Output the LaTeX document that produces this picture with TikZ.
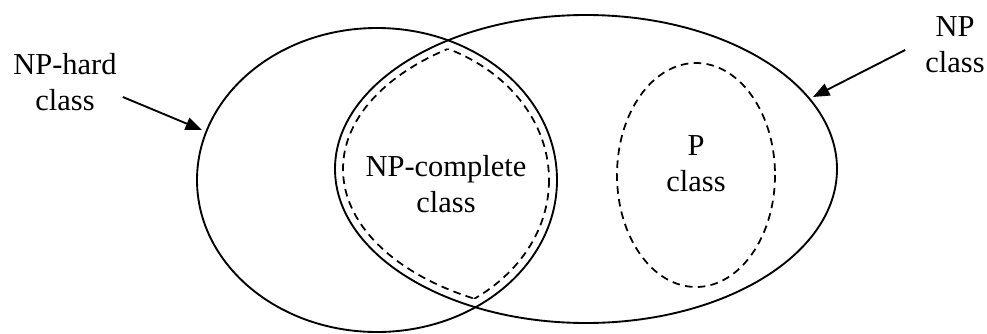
\documentclass[tikz,border=0pt]{standalone}
\usepackage{fontspec}
\setmainfont{Liberation Serif}
\usetikzlibrary{arrows.meta}
\tikzset{
	setline/.style={line width=1.6pt},
	dashline/.style={line width=1.5pt,dash pattern=on 6.5pt off 4.5pt},
	classlabel/.style={align=center,inner sep=0pt,font=\fontsize{26}{30.5}\selectfont},
}
\begin{document}
\begin{tikzpicture}[x=0.03cm,y=-0.03cm,>={Triangle[length=14pt,width=11pt]}]
			\useasboundingbox (0,0) rectangle (987,333);
			% the two big sets
			\draw[setline](377,180) ellipse [x radius=180,y radius=152];
			\draw[setline](586,169) ellipse [x radius=251,y radius=154];
			% NP-complete = their overlap
			\begin{scope}\clip(586,169) ellipse [x radius=243,y radius=146];
				\draw[dashline](377,180) ellipse [x radius=172,y radius=144];\end{scope}
			\begin{scope}\clip(377,180) ellipse [x radius=172,y radius=144];
				\draw[dashline](586,169) ellipse [x radius=243,y radius=146];\end{scope}
			% P
			\draw[dashline](696,175) ellipse [x radius=79,y radius=112];
			\node[classlabel] (hard) at (65,82) {NP-hard\\class};
			\node[classlabel] (np) at (955,45) {NP\\class};
			\node[classlabel] (complete) at (446,184) {NP-complete\\class};
			\node[classlabel] (p) at (696,164) {P\\class};
			\coordinate (hardtip) at (202,130);
			\coordinate (nptip) at (813,97);
			\draw[setline,->]([shift={(6,15)}]hard.east)--(hardtip);
			\draw[setline,->]([shift={(-20,5)}]np.west)--(nptip);
		\end{tikzpicture}
\end{document}
